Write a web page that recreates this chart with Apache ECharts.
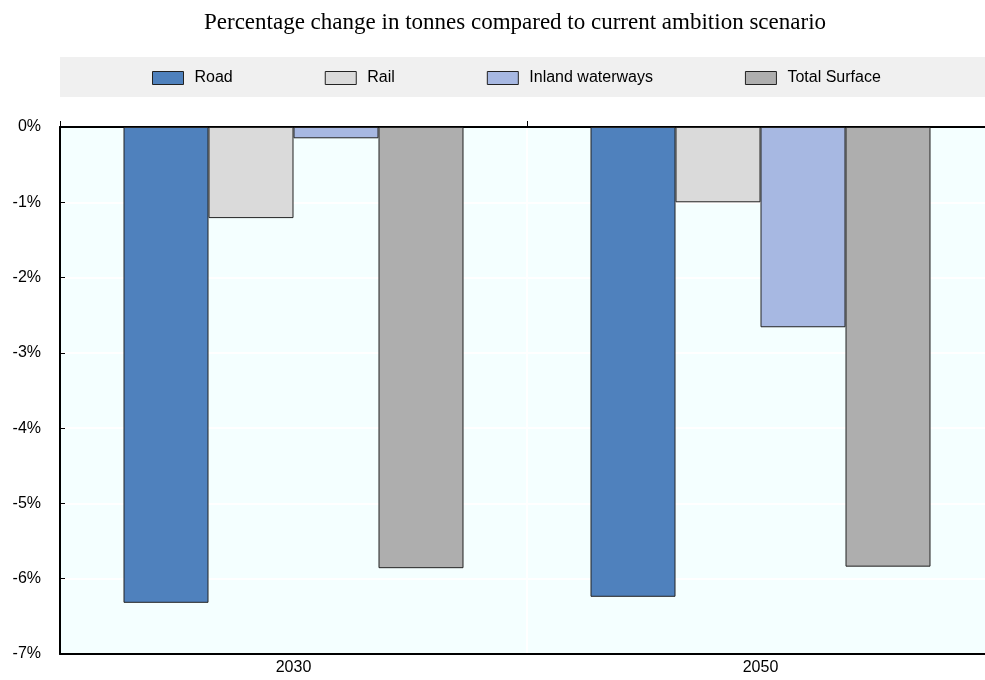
<!DOCTYPE html>
<html><head><meta charset="utf-8">
<script src="https://cdn.jsdelivr.net/npm/echarts@6/dist/echarts.min.js"></script>
<style>html,body{margin:0;padding:0;background:#fff;overflow:hidden}#c{width:985px;height:680px}</style>
</head><body><div id="c"></div>
<script>
const categories = ['2030', '2050'];
const road = [-6.32, -6.24];
const rail = [-1.21, -1.0];
const inland = [-0.15, -2.66];
const totalSurface = [-5.86, -5.84];
const seriesNames = ['Road', 'Rail', 'Inland waterways', 'Total Surface'];
const colors = ['#4F81BD', '#DADADA', '#A7B8E2', '#AEAEAE'];
const titleText = 'Percentage change in tonnes compared to current ambition scenario';

const chart = echarts.init(document.getElementById('c'), null, {renderer: 'canvas'});
const data = [road, rail, inland, totalSurface];
const series = seriesNames.map((n, i) => ({
  name: n, type: 'bar', data: data[i], barWidth: 85, barGap: '0%',
  itemStyle: {color: colors[i], borderColor: '#222', borderWidth: 1},
  xAxisIndex: 0
}));
chart.setOption({
  animation: false,
  title: {text: titleText, left: 510, top: 6, textAlign: 'center',
    textStyle: {fontFamily: 'Liberation Serif', fontWeight: 'normal', fontSize: 23, color: '#000'}},
  graphic: [{type: 'rect', shape: {x: 60, y: 57, width: 930, height: 40}, style: {fill: '#F0F0F0'}, z: -1}],
  legend: {top: 70, left: 152, padding: 0, itemWidth: 31, itemHeight: 13, itemGap: 92,
    textStyle: {fontFamily: 'Liberation Sans', fontSize: 16, color: '#000', padding: [0, 0, 0, 6]},
    data: seriesNames, icon: 'rect',
    itemStyle: {borderColor: '#222', borderWidth: 1}},
  grid: {left: 60, top: 127, height: 527, width: 934, show: true, backgroundColor: '#F4FFFF', borderWidth: 0, outerBoundsMode: 'none'},
  xAxis: [{type: 'category', data: categories, position: 'bottom',
    axisLine: {onZero: false, lineStyle: {color: '#000', width: 2}},
    axisTick: {show: false},
    axisLabel: {fontFamily: 'Liberation Sans', fontSize: 16, color: '#000', margin: 6},
    splitLine: {show: true, lineStyle: {color: '#fff', width: 2}}},
  {type: 'category', data: categories, position: 'top',
    axisLine: {onZero: false, lineStyle: {color: '#000', width: 2}},
    axisTick: {show: true, length: 6, lineStyle: {color: '#000', width: 1}},
    axisLabel: {show: false}, splitLine: {show: false}}],
  yAxis: {type: 'value', min: -7, max: 0, interval: 1,
    axisLine: {show: true, lineStyle: {color: '#000', width: 2}},
    axisTick: {show: true, inside: true, length: 5, lineStyle: {color: '#000'}},
    axisLabel: {formatter: v => v + '%', fontFamily: 'Liberation Sans', fontSize: 16, color: '#000', margin: 19},
    splitLine: {show: true, lineStyle: {color: '#fff', width: 2}}},
  series: series
});
</script></body></html>
